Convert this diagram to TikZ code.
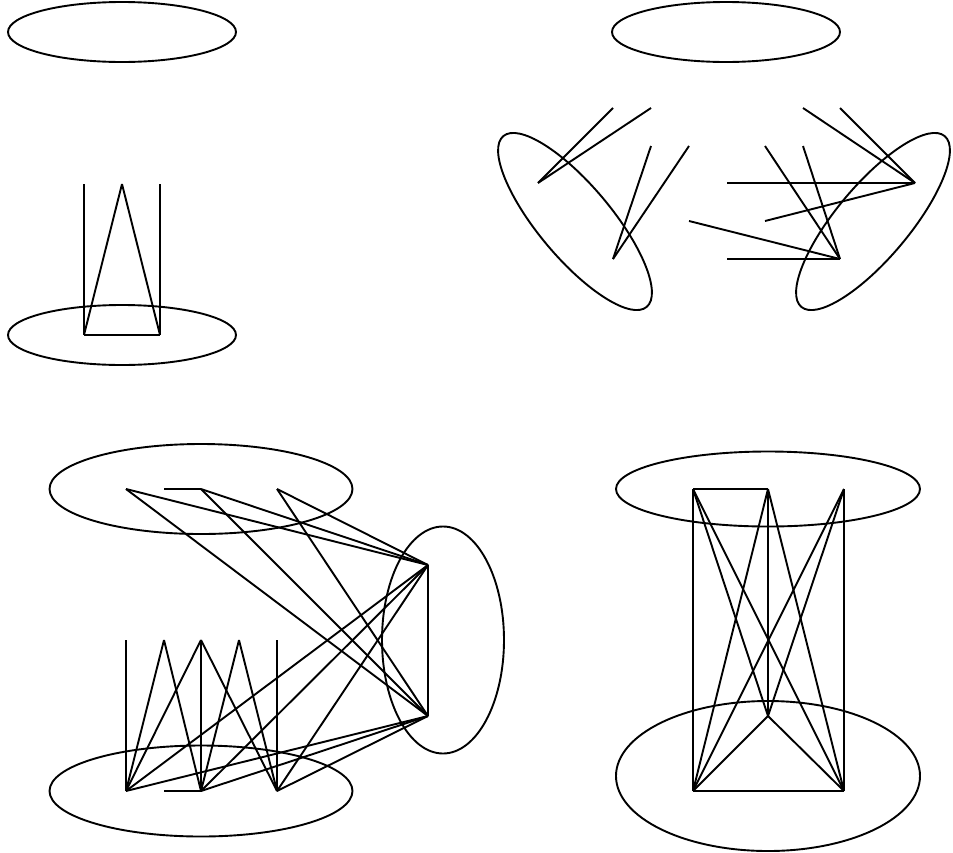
\documentclass[tikz,border=0pt]{standalone}
\begin{document}
\begin{tikzpicture}[x=1pt,y=-1pt,
  edge/.style={draw=black,line width=1.9pt},
  blob/.style={draw=black,line width=1.9pt}]
\useasboundingbox[fill=white] (0,0) rectangle (953,852);
% ---------- panel 1 ----------
\coordinate (a1) at (84,184);
\coordinate (a2) at (122,184);
\coordinate (a3) at (160,184);
\coordinate (a4) at (84,335);
\coordinate (a5) at (160,335);
\draw[blob] (122,32) ellipse [x radius=114pt, y radius=30pt];
\draw[blob] (122,335) ellipse [x radius=114pt, y radius=30pt];
\draw[edge] (a1) -- (a4);
\draw[edge] (a3) -- (a5);
\draw[edge] (a2) -- (a4);
\draw[edge] (a2) -- (a5);
\draw[edge] (a4) -- (a5);
% ---------- panel 2 ----------
\coordinate (b1) at (538,183);
\coordinate (b2) at (613,108);
\coordinate (b3) at (651,108);
\coordinate (b4) at (613,259);
\coordinate (b5) at (651,146);
\coordinate (b6) at (689,146);
\coordinate (c1) at (915,183);
\coordinate (c2) at (803,108);
\coordinate (c3) at (840,108);
\coordinate (c4) at (727,183);
\coordinate (c5) at (765,221);
\coordinate (c6) at (840,259);
\coordinate (c7) at (765,146);
\coordinate (c8) at (803,146);
\coordinate (c9) at (689,221);
\coordinate (c10) at (727,259);
\draw[blob] (726,32) ellipse [x radius=114pt, y radius=30pt];
\draw[blob, rotate around={-50:(575,221.5)}] (575,221.5) ellipse [x radius=111.5pt, y radius=36.4pt];
\draw[blob, rotate around={50:(873,221.5)}] (873,221.5) ellipse [x radius=111.5pt, y radius=36.4pt];
\draw[edge] (b1) -- (b2);
\draw[edge] (b1) -- (b3);
\draw[edge] (b4) -- (b5);
\draw[edge] (b4) -- (b6);
\draw[edge] (c1) -- (c2);
\draw[edge] (c1) -- (c3);
\draw[edge] (c1) -- (c4);
\draw[edge] (c1) -- (c5);
\draw[edge] (c6) -- (c7);
\draw[edge] (c6) -- (c8);
\draw[edge] (c6) -- (c9);
\draw[edge] (c6) -- (c10);
% ---------- panel 3 ----------
\coordinate (d1) at (126,489);
\coordinate (d2) at (164,489);
\coordinate (d3) at (201,489);
\coordinate (d4) at (277,489);
\coordinate (e1) at (428,565);
\coordinate (e2) at (428,716);
\coordinate (f1) at (126,640);
\coordinate (f2) at (164,640);
\coordinate (f3) at (201,640);
\coordinate (f4) at (239,640);
\coordinate (f5) at (277,640);
\coordinate (g1) at (126,791);
\coordinate (g2) at (164,791);
\coordinate (g3) at (201,791);
\coordinate (g4) at (277,791);
\draw[blob] (201,489) ellipse [x radius=151.5pt, y radius=45pt];
\draw[blob] (201,791) ellipse [x radius=151.5pt, y radius=45.5pt];
\draw[blob] (443,640) ellipse [x radius=61pt, y radius=113.5pt];
\draw[edge] (d2) -- (d3);
\foreach \s in {d1,d3,d4,g1,g3,g4} {
  \draw[edge] (\s) -- (e1);
  \draw[edge] (\s) -- (e2);
}
\draw[edge] (e1) -- (e2);
\draw[edge] (f1) -- (g1);
\draw[edge] (f2) -- (g1);
\draw[edge] (f2) -- (g3);
\draw[edge] (f3) -- (g1);
\draw[edge] (f3) -- (g3);
\draw[edge] (f3) -- (g4);
\draw[edge] (f4) -- (g3);
\draw[edge] (f4) -- (g4);
\draw[edge] (f5) -- (g4);
\draw[edge] (g2) -- (g3);
% ---------- panel 4 ----------
\coordinate (h1) at (693,489);
\coordinate (h2) at (768,489);
\coordinate (h3) at (844,489);
\coordinate (h4) at (768,716);
\coordinate (h5) at (693,791);
\coordinate (h6) at (844,791);
\draw[blob] (768,489) ellipse [x radius=152pt, y radius=37.5pt];
\draw[blob] (768,776) ellipse [x radius=152pt, y radius=75pt];
\draw[edge] (h1) -- (h2);
\draw[edge] (h1) -- (h5);
\draw[edge] (h3) -- (h6);
\draw[edge] (h5) -- (h6);
\draw[edge] (h2) -- (h4);
\draw[edge] (h1) -- (h4);
\draw[edge] (h1) -- (h6);
\draw[edge] (h2) -- (h5);
\draw[edge] (h2) -- (h6);
\draw[edge] (h3) -- (h5);
\draw[edge] (h3) -- (h4);
\draw[edge] (h4) -- (h5);
\draw[edge] (h4) -- (h6);
\end{tikzpicture}
\end{document}
